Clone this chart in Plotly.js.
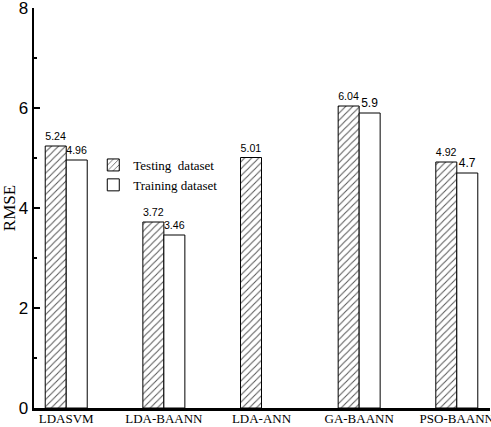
<!DOCTYPE html>
<html><head><meta charset="utf-8">
<script src="https://cdn.plot.ly/plotly-3.0.1.min.js"></script>
<style>html,body{margin:0;padding:0;background:#fff}</style>
</head><body><div id="chart" style="width:491px;height:427px"></div>
<script>
const categories = ["LDASVM", "LDA-BAANN", "LDA-ANN", "GA-BAANN", "PSO-BAANN"];
const testing = [5.24, 3.72, 5.01, 6.04, 4.92];
const training = [4.96, 3.46, null, 5.9, 4.7];
const testingLabels = ["5.24", "3.72", "5.01", "6.04", "4.92"];
const trainingLabels = ["4.96", "3.46", "", "5.9", "4.7"];

const data = [
  {type:'bar', name:'Testing  dataset', x:categories, y:testing, text:testingLabels,
   textposition:'outside', cliponaxis:false,
   textfont:{family:'Arial, Liberation Sans', size:12, color:'#000'},
   marker:{color:'#fff', line:{color:'#000', width:1},
     pattern:{shape:'/', fgcolor:'#555', bgcolor:'#fff', size:5, solidity:0.2}}},
  {type:'bar', name:'Training dataset', x:categories, y:training, text:trainingLabels,
   textposition:'outside', cliponaxis:false,
   textfont:{family:'Arial, Liberation Sans', size:12, color:'#000'},
   marker:{color:'#fff', line:{color:'#000', width:1}}}
];
const layout = {
  width:491, height:427,
  margin:{l:34, r:1, t:8, b:19},
  paper_bgcolor:'#fff', plot_bgcolor:'#fff',
  barmode:'group', bargap:0.57, bargroupgap:0,
  showlegend:true,
  legend:{x:0.13, y:0.645, xanchor:'left', yanchor:'top', bgcolor:'rgba(0,0,0,0)',
    font:{family:'Times New Roman, Liberation Serif', size:13, color:'#000'},
    tracegroupgap:0, itemwidth:30},
  xaxis:{range:[-0.33, 4.34], showline:true, linecolor:'#000', linewidth:2.5,
    ticks:'', showgrid:false, zeroline:false, ticklabelstandoff:-3, ticklabeloverflow:'allow',
    tickfont:{family:'Times New Roman, Liberation Serif', size:13, color:'#000'}},
  yaxis:{range:[0, 8], dtick:2, showline:true, linecolor:'#000', linewidth:2.5,
    ticks:'inside', ticklen:6, tickwidth:2, tickcolor:'#000', ticklabeloverflow:'allow',
    minor:{dtick:1, ticks:'inside', ticklen:3, tickwidth:2, tickcolor:'#000'},
    showgrid:false, zeroline:false,
    tickfont:{family:'Arial, Liberation Sans', size:17, color:'#000'},
    title:{text:'RMSE', standoff:6, font:{family:'Times New Roman, Liberation Serif', size:17, color:'#000'}}}
};
Plotly.newPlot('chart', data, layout, {displayModeBar:false, staticPlot:true});
</script></body></html>
